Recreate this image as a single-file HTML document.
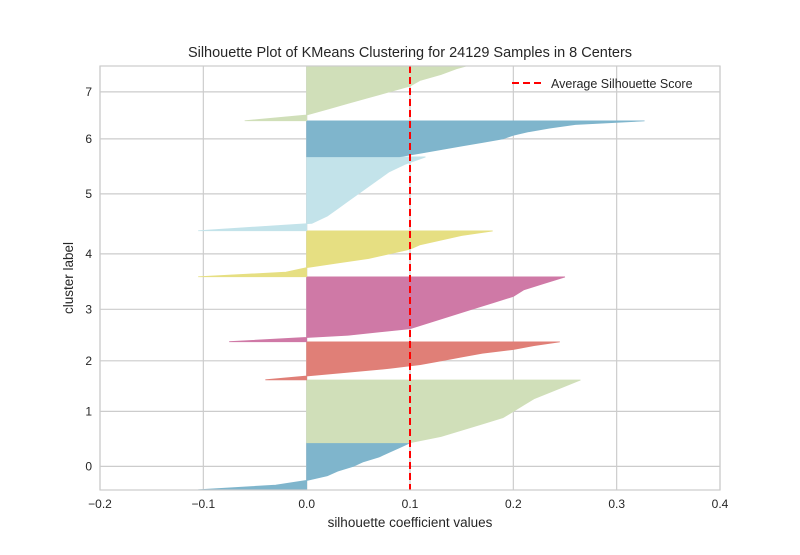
<!DOCTYPE html>
<html><head><meta charset="utf-8"><style>
body{margin:0;background:#fff;}
svg text{font-family:"Liberation Sans",sans-serif;fill:#262626;}
</style></head><body>
<svg id="chart" width="800" height="550" xmlns="http://www.w3.org/2000/svg">
<rect width="800" height="550" fill="#fff"/>
<g id="grid"></g>
<g id="marks"></g>
<g id="axes"></g>
</svg>
<script>
const clusterLabels = ["0","1","2","3","4","5","6","7"];
const clusterSizes = [2680,3590,2170,3700,2620,4220,2050,3300];
const clusterColors = ["#7fb5cc","#d0dfb9","#e07f77","#cf79a6","#e6df82","#c3e3ea","#7fb5cc","#d0dfb9"];
// sorted silhouette values at quantiles 0,0.1,...,1 (bottom to top)
const q0 = [-0.105,-0.03,0.0,0.02,0.03,0.045,0.055,0.07,0.08,0.09,0.1];
const q1 = [0.1,0.13,0.15,0.17,0.19,0.2,0.21,0.22,0.235,0.25,0.265];
const q2 = [-0.04,0.0,0.04,0.08,0.11,0.13,0.15,0.17,0.2,0.22,0.245];
const q3 = [-0.075,0.04,0.1,0.12,0.14,0.16,0.18,0.2,0.21,0.23,0.25];
const q4 = [-0.105,-0.02,0.0,0.03,0.06,0.08,0.1,0.11,0.13,0.15,0.18];
const q5 = [-0.105,0.005,0.02,0.03,0.04,0.05,0.06,0.07,0.08,0.095,0.115];
const q6 = [0.09,0.11,0.13,0.15,0.17,0.19,0.2,0.215,0.235,0.26,0.327];
const q7 = [-0.06,0.0,0.02,0.04,0.06,0.08,0.1,0.11,0.13,0.145,0.165];
const quantiles = [q0,q1,q2,q3,q4,q5,q6,q7];
const avgScore = 0.1;
const xTicks = [-0.2,-0.1,0.0,0.1,0.2,0.3,0.4];
const xTickLabels = ["−0.2","−0.1","0.0","0.1","0.2","0.3","0.4"];

const L=100,R=720,T=66,B=490, xmin=-0.2,xmax=0.4;
const ns="http://www.w3.org/2000/svg";
const gap=10;
let total=0; clusterSizes.forEach(s=>total+=s+gap);
const ymax=total*0.993;
const X=v=>L+(v-xmin)/(xmax-xmin)*(R-L);
const Y=s=>B-(s/ymax)*(B-T);
function mk(tag,attrs,parent){const e=document.createElementNS(ns,tag);for(const k in attrs)e.setAttribute(k,attrs[k]);parent.appendChild(e);return e;}
const grid=document.getElementById('grid'),marks=document.getElementById('marks'),axes=document.getElementById('axes');
const clip=mk('clipPath',{id:'pc'},document.getElementById('chart'));
mk('rect',{x:L,y:T,width:R-L,height:B-T},clip);
marks.setAttribute('clip-path','url(#pc)');
xTicks.forEach((t,i)=>{
 const gl=mk('line',{x1:X(t),x2:X(t),y1:T,y2:B,stroke:"#cccccc","stroke-width":1.2},grid);
 
 
 const tx=mk('text',{x:X(t),y:B+18,"text-anchor":"middle","font-size":12},axes);
 tx.textContent=xTickLabels[i];
 
 
});
let yl=gap;
clusterSizes.forEach((size,c)=>{
 const q=quantiles[c];
 let d="M"+X(0)+","+Y(yl);
 q.forEach((v,k)=>{d+=" L"+X(v)+","+Y(yl+size*k/(q.length-1));});
 d+=" L"+X(0)+","+Y(yl+size)+" Z";
 const p=mk('path',{d:d,fill:clusterColors[c],stroke:clusterColors[c],"stroke-width":0.8,"fill-opacity":1},marks);
 
 
 const cy=Y(yl+size/2);
 const gl=mk('line',{x1:L,x2:R,y1:cy,y2:cy,stroke:"#cccccc","stroke-width":1.2},grid);
 
 
 const tx=mk('text',{x:L-8,y:cy+4,"text-anchor":"end","font-size":12},axes);
 tx.textContent=clusterLabels[c];
 
 
 yl+=size+gap;
});
const av=mk('line',{x1:X(avgScore),x2:X(avgScore),y1:T,y2:B,stroke:"#ff0000","stroke-width":2,"stroke-dasharray":"7,4"},marks);


const fr=mk('rect',{x:L,y:T,width:R-L,height:B-T,fill:"none",stroke:"#cccccc","stroke-width":1.2},axes);


</script>
<svg style="position:absolute;left:0;top:0" width="800" height="550" xmlns="http://www.w3.org/2000/svg">
<text x="410" y="57" text-anchor="middle" font-size="14.5">Silhouette Plot of KMeans Clustering for 24129 Samples in 8 Centers</text>
<text x="410" y="527" text-anchor="middle" font-size="13.5">silhouette coefficient values</text>
<text transform="translate(73,278) rotate(-90)" text-anchor="middle" font-size="13.5">cluster label</text>
<g>
<line x1="512" x2="541" y1="83" y2="83" stroke="#ff0000" stroke-width="2" stroke-dasharray="7,4"/>
<text x="551" y="88" font-size="12.5">Average Silhouette Score</text>
</g>
</svg>
</body></html>
